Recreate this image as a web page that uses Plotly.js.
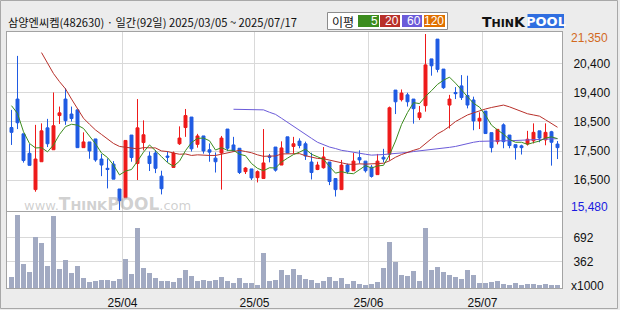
<!DOCTYPE html>
<html><head><meta charset="utf-8">
<script src="https://cdn.plot.ly/plotly-3.0.1.min.js"></script>
<style>html,body{margin:0;padding:0;background:#ececec;}#chart{width:620px;height:310px;}</style>
</head><body><div id="chart"></div>
<script>
// ---- data ----
const dates = ("2025-03-05 2025-03-06 2025-03-07 2025-03-10 2025-03-11 2025-03-12 2025-03-13 2025-03-14 2025-03-17 2025-03-18 2025-03-19 2025-03-20 2025-03-21 2025-03-24 2025-03-25 2025-03-26 2025-03-27 2025-03-28 2025-03-31 " +
 "2025-04-01 2025-04-02 2025-04-03 2025-04-04 2025-04-07 2025-04-08 2025-04-09 2025-04-10 2025-04-11 2025-04-14 2025-04-15 2025-04-16 2025-04-17 2025-04-18 2025-04-21 2025-04-22 2025-04-23 2025-04-24 2025-04-25 2025-04-28 2025-04-29 2025-04-30 " +
 "2025-05-02 2025-05-07 2025-05-08 2025-05-09 2025-05-12 2025-05-13 2025-05-14 2025-05-15 2025-05-16 2025-05-19 2025-05-20 2025-05-21 2025-05-22 2025-05-23 2025-05-26 2025-05-27 2025-05-28 2025-05-29 2025-05-30 " +
 "2025-06-02 2025-06-04 2025-06-05 2025-06-09 2025-06-10 2025-06-11 2025-06-12 2025-06-13 2025-06-16 2025-06-17 2025-06-18 2025-06-19 2025-06-20 2025-06-23 2025-06-24 2025-06-25 2025-06-26 2025-06-27 2025-06-30 " +
 "2025-07-01 2025-07-02 2025-07-03 2025-07-04 2025-07-07 2025-07-08 2025-07-09 2025-07-10 2025-07-11 2025-07-14 2025-07-15 2025-07-16 2025-07-17").split(" ");

const openP = [18230,19180,18020,17370,16160,17090,18220,17490,18630,19180,18680,18820,17560,17750,17850,17180,16870,17010,16180,15890,
 17980,17030,17730,17280,17380,16610,17280,16900,17690,18230,18580,17670,17950,17490,17210,17380,18180,17650,17540,16760,
 16850,16560,16530,17280,17580,16980,17920,17600,17780,17690,17080,16830,16890,17080,16530,16160,16980,16790,17230,17110,
 16910,16660,17240,17340,19480,19160,19320,19180,18560,18960,20520,21180,20180,18980,19400,19620,19300,19150,18450,18780,
 18060,17760,18320,17980,17660,17620,17680,17790,18120,17820,18090,17680];
const highP = [18820,20620,18020,17680,18320,18370,18520,19400,18930,19540,18930,18820,18070,17750,17850,17350,17200,17110,16180,17800,
 17980,19180,18470,17430,17480,16790,17430,17430,18270,18850,18580,18020,17950,17700,17400,17950,18180,17920,17540,16910,
 16850,16800,18180,17350,17580,17770,17920,17920,17870,17760,17390,17090,17580,17080,16530,17150,17030,17380,17470,17110,
 16980,17350,17520,18930,19480,19500,19390,19180,18950,21350,20520,21180,20180,19320,19580,19980,19960,19260,18740,18780,
 18060,18170,18370,17980,17660,17660,18120,18370,18120,18370,18120,17780];
const lowP = [17650,18180,17060,16970,16090,17090,17580,17490,18350,18320,18430,17560,17560,17190,17090,16610,16200,16510,15480,15890,
 17090,16480,17470,16780,16710,16000,17070,16900,17650,17920,17430,17560,17360,17090,16730,16160,17450,17450,16680,16680,
 16480,16400,16530,17070,16760,16980,17380,17360,17540,17150,16500,16810,16860,16310,15930,16160,16690,16790,17030,16730,
 16560,16660,17070,17130,18680,19100,18930,18360,18480,18760,19960,20070,19520,18200,19180,19150,18870,18140,18180,18030,
 17400,17670,17540,17540,17160,17330,17630,17700,17740,17640,16960,17180];
const closeP = [18070,18390,17130,16970,17180,18120,17690,18290,18720,18460,18530,17560,17750,17450,17150,16980,16830,16510,15790,17800,
 17230,18220,17990,17030,16870,16190,17240,17380,17880,18630,17520,17950,17450,17410,17090,17880,17540,17450,16730,16880,
 16550,16760,17050,17240,16810,17550,17380,17690,17630,17280,16730,16980,17250,16430,16160,16980,16760,17110,17150,16790,
 16600,17110,17180,18890,19090,19380,19090,18860,18720,20320,20290,20170,19560,19180,19360,19230,18980,18450,18540,18030,
 17560,18170,17760,17630,17560,17560,17840,18070,17880,18070,17740,17560];

const ma5 = [18960,18700,18090,17700,17550,17560,17420,17650,18000,18260,18340,18310,18200,17950,17690,17380,17230,16980,16650,16780,
 16830,17110,17410,17650,17470,17260,17060,16940,17110,17460,17730,17870,17880,17790,17480,17560,17470,17470,17340,17290,
 17030,16870,16790,16890,16880,17080,17210,17330,17410,17510,17340,17260,17170,16930,16710,16760,16710,16690,16830,16960,
 16880,16950,16970,17320,17780,18330,18730,19060,19030,19270,19460,19670,19810,19910,19710,19500,19260,19040,18910,18640,
 18310,18150,18010,17830,17740,17740,17670,17730,17780,17880,17920,17860];
const ma20 = [null,null,null,null,null,20730,20380,20030,19760,19520,19180,18850,18540,18340,18150,18000,17850,17700,17600,17570,
 17530,17520,17560,17560,17550,17450,17430,17380,17340,17350,17300,17320,17300,17300,17300,17340,17380,17430,17470,17430,
 17390,17320,17270,17280,17280,17350,17360,17370,17360,17290,17250,17200,17190,17140,17100,17050,17010,17000,17020,17010,
 17020,17030,17040,17120,17240,17330,17410,17470,17530,17680,17860,18020,18130,18270,18430,18540,18650,18720,18790,18850,
 18900,18950,18980,18920,18840,18750,18690,18650,18610,18490,18370,18240];
const ma60 = [null,null,null,null,null,null,null,null,null,null,null,null,null,null,null,null,null,null,null,null,
 null,null,null,null,null,null,null,null,null,null,null,null,null,null,null,null,null,18840,18840,18840,
 18840,18840,18820,18740,18670,18540,18400,18260,18150,18000,17870,17740,17650,17580,17530,17470,17440,17400,17360,17340,
 17310,17310,17330,17350,17360,17380,17400,17430,17450,17470,17490,17520,17540,17570,17600,17650,17680,17740,17770,17780,
 17780,17780,17790,17790,17800,17800,17820,17830,17830,17840,17850,17860];
// volume, x1000 shares
const volume = [152,1007,331,221,704,621,304,994,262,386,207,304,138,83,97,110,110,97,124,400,
 193,828,276,207,138,97,97,83,138,248,166,97,110,97,110,152,97,69,138,69,
 69,41,483,97,110,248,179,262,179,124,110,69,97,152,97,138,55,97,55,41,
 55,83,276,635,359,179,166,235,97,828,248,290,221,179,152,124,248,179,69,69,
 83,97,55,41,69,41,55,55,41,55,41,41];

const priceTickVals = [20373,19406,18425,17448,16481];
const priceTickText = ["20,400","19,400","18,500","17,500","16,500"];
const volTickVals = [362,692];
const volTickText = ["362","692"];
const maxLabel = "21,350", minLabel = "15,480";
const titleText = "삼양엔씨켐(482630) · 일간(92일) 2025/03/05 ~ 2025/07/17";
const maNames = ["5","20","60","120"];

// ---- styling ----
const RED = "#ee1a1a", BLUE = "#1f5be3";
const C5 = "#3c8c1e", C20 = "#b8302a", C60 = "#6b5bd9", C120 = "#e07000";
const FONT = "Liberation Sans, Noto Sans CJK KR, sans-serif";
const KFONT = "Noto Sans CJK KR, sans-serif";
const GRID = "#d9d9d9", FRAME = "#a3a3a3";

const idx = dates.map((d, i) => i);
const monthVals = [], monthText = [];
for (let i = 1; i < dates.length; i++) {
  if (dates[i].slice(5, 7) !== dates[i - 1].slice(5, 7)) {
    monthVals.push(i - 0.5);
    monthText.push(dates[i].slice(2, 4) + "/" + dates[i].slice(5, 7));
  }
}

// pixel -> paper helpers (plot area: x 7..562, y 32..288)
const L = 7, R = 58, T = 32, B = 22, W = 620, H = 310;
const pw = W - L - R, ph = H - T - B;
const PX = x => (x - L) / pw;
const PY = y => (H - B - y) / ph;

const traces = [
  {type: "bar", x: idx, y: volume, xaxis: "x", yaxis: "y2", width: 0.84,
   marker: {color: "#a2aac2", line: {width: 0}}, hoverinfo: "skip"},
  {type: "candlestick", x: idx, open: openP, high: highP, low: lowP, close: closeP,
   xaxis: "x", yaxis: "y", whiskerwidth: 0,
   increasing: {line: {color: RED, width: 1}, fillcolor: RED},
   decreasing: {line: {color: BLUE, width: 1}, fillcolor: BLUE}, hoverinfo: "skip"},
  {type: "scatter", mode: "lines", x: idx, y: ma60, line: {color: C60, width: 1}, xaxis: "x", yaxis: "y", hoverinfo: "skip"},
  {type: "scatter", mode: "lines", x: idx, y: ma20, line: {color: C20, width: 1}, xaxis: "x", yaxis: "y", hoverinfo: "skip"},
  {type: "scatter", mode: "lines", x: idx, y: ma5, line: {color: C5, width: 1}, xaxis: "x", yaxis: "y", hoverinfo: "skip"}
];

const ann = [];
ann.push({xref: "paper", yref: "paper", x: PX(6), y: PY(22), xanchor: "left", yanchor: "middle",
  text: titleText, showarrow: false, font: {family: KFONT, size: 11.2, color: "#111"}});
ann.push({xref: "paper", yref: "paper", x: PX(343), y: PY(21), xanchor: "center", yanchor: "middle",
  text: "이평", showarrow: false, font: {family: KFONT, size: 12, color: "#111"}});
const boxes = [[358, 379, C5], [380, 400, C20], [402, 422, C60], [424, 445, C120]];
const shapes = [];
shapes.push({type: "rect", xref: "paper", yref: "paper", x0: PX(327.5), x1: PX(447.5), y0: PY(12.5), y1: PY(29.5),
  fillcolor: "#ffffff", line: {color: "#8c8c8c", width: 1}, layer: "below"});
boxes.forEach((b, k) => {
  shapes.push({type: "rect", xref: "paper", yref: "paper", x0: PX(b[0]), x1: PX(b[1]), y0: PY(15), y1: PY(27),
    fillcolor: b[2], line: {width: 0}});
  ann.push({xref: "paper", yref: "paper", x: PX(b[1] + 0.5), y: PY(21), xanchor: "right", yanchor: "middle",
    text: maNames[k], showarrow: false, font: {family: FONT, size: 12, color: "#ffffff"}});
});
// logo
shapes.push({type: "rect", xref: "paper", yref: "paper", x0: PX(527.5), x1: PX(564), y0: PY(14), y1: PY(28),
  fillcolor: "#2f6ee0", line: {width: 0}});
ann.push({xref: "paper", yref: "paper", x: PX(528), y: PY(21.5), xanchor: "right", yanchor: "middle",
  text: "<b>T<span style='font-size:11px'>HIN</span>K</b>", showarrow: false, font: {family: "DejaVu Sans, sans-serif", size: 14, color: "#111"}});
ann.push({xref: "paper", yref: "paper", x: PX(545.5), y: PY(21.5), xanchor: "center", yanchor: "middle",
  text: "<b>POOL</b>", showarrow: false, font: {family: "DejaVu Sans, sans-serif", size: 13, color: "#ffffff"}});
// watermark
ann.push({xref: "paper", yref: "paper", x: PX(22), y: PY(204), xanchor: "left", yanchor: "middle",
  text: "www.<b><span style='font-size:17px'>T</span>HINK<span style='font-size:17px'>POOL</span></b>.com", showarrow: false,
  font: {family: "DejaVu Sans, sans-serif", size: 13, color: "rgba(150,150,150,0.45)"}});
// extreme price labels & volume unit
ann.push({xref: "paper", yref: "paper", x: PX(569), y: PY(38), xanchor: "left", yanchor: "middle",
  text: maxLabel, showarrow: false, font: {family: FONT, size: 12, color: "#d2691e"}});
ann.push({xref: "paper", yref: "paper", x: PX(569), y: PY(207), xanchor: "left", yanchor: "middle",
  text: minLabel, showarrow: false, font: {family: FONT, size: 12, color: "#1a1ae0"}});
ann.push({xref: "paper", yref: "paper", x: PX(569), y: PY(286), xanchor: "left", yanchor: "middle",
  text: "x1000", showarrow: false, font: {family: FONT, size: 12, color: "#111"}});
// outer frame
shapes.push({type: "rect", xref: "paper", yref: "paper", x0: PX(0.5), x1: PX(617.5), y0: PY(0.5), y1: PY(308.5),
  fillcolor: "rgba(0,0,0,0)", line: {color: "#a8a8a8", width: 1}});

const layout = {
  width: W, height: H, margin: {l: L, r: R, t: T, b: B, pad: 0},
  paper_bgcolor: "#ececec", plot_bgcolor: "#ffffff", showlegend: false, bargap: 0,
  font: {family: FONT, size: 12, color: "#111"},
  xaxis: {domain: [0, 1], range: [-0.75, 91.75], anchor: "y2", tickmode: "array", tickvals: monthVals, ticktext: monthText,
    showgrid: true, gridcolor: GRID, gridwidth: 1, showline: true, mirror: "all", linecolor: FRAME, linewidth: 1,
    ticks: "", zeroline: false, rangeslider: {visible: false}, fixedrange: true, ticklabelstandoff: 4,
    tickfont: {family: FONT, size: 12, color: "#111"}},
  yaxis: {domain: [77 / 256, 1], range: [15447, 21417], side: "right", tickmode: "array",
    tickvals: priceTickVals, ticktext: priceTickText, showgrid: true, gridcolor: GRID, showline: true, mirror: true,
    linecolor: FRAME, ticks: "", zeroline: false, fixedrange: true, ticklabelstandoff: 8,
    tickfont: {family: FONT, size: 12, color: "#111"}},
  yaxis2: {domain: [0, 76 / 256], range: [0, 1049], side: "right", tickmode: "array",
    tickvals: volTickVals, ticktext: volTickText, showgrid: true, gridcolor: GRID, showline: true, mirror: true,
    linecolor: FRAME, ticks: "", zeroline: false, fixedrange: true, ticklabelstandoff: 8,
    tickfont: {family: FONT, size: 12, color: "#111"}},
  annotations: ann, shapes: shapes
};

Plotly.newPlot("chart", traces, layout, {displayModeBar: false, staticPlot: true});
</script></body></html>
